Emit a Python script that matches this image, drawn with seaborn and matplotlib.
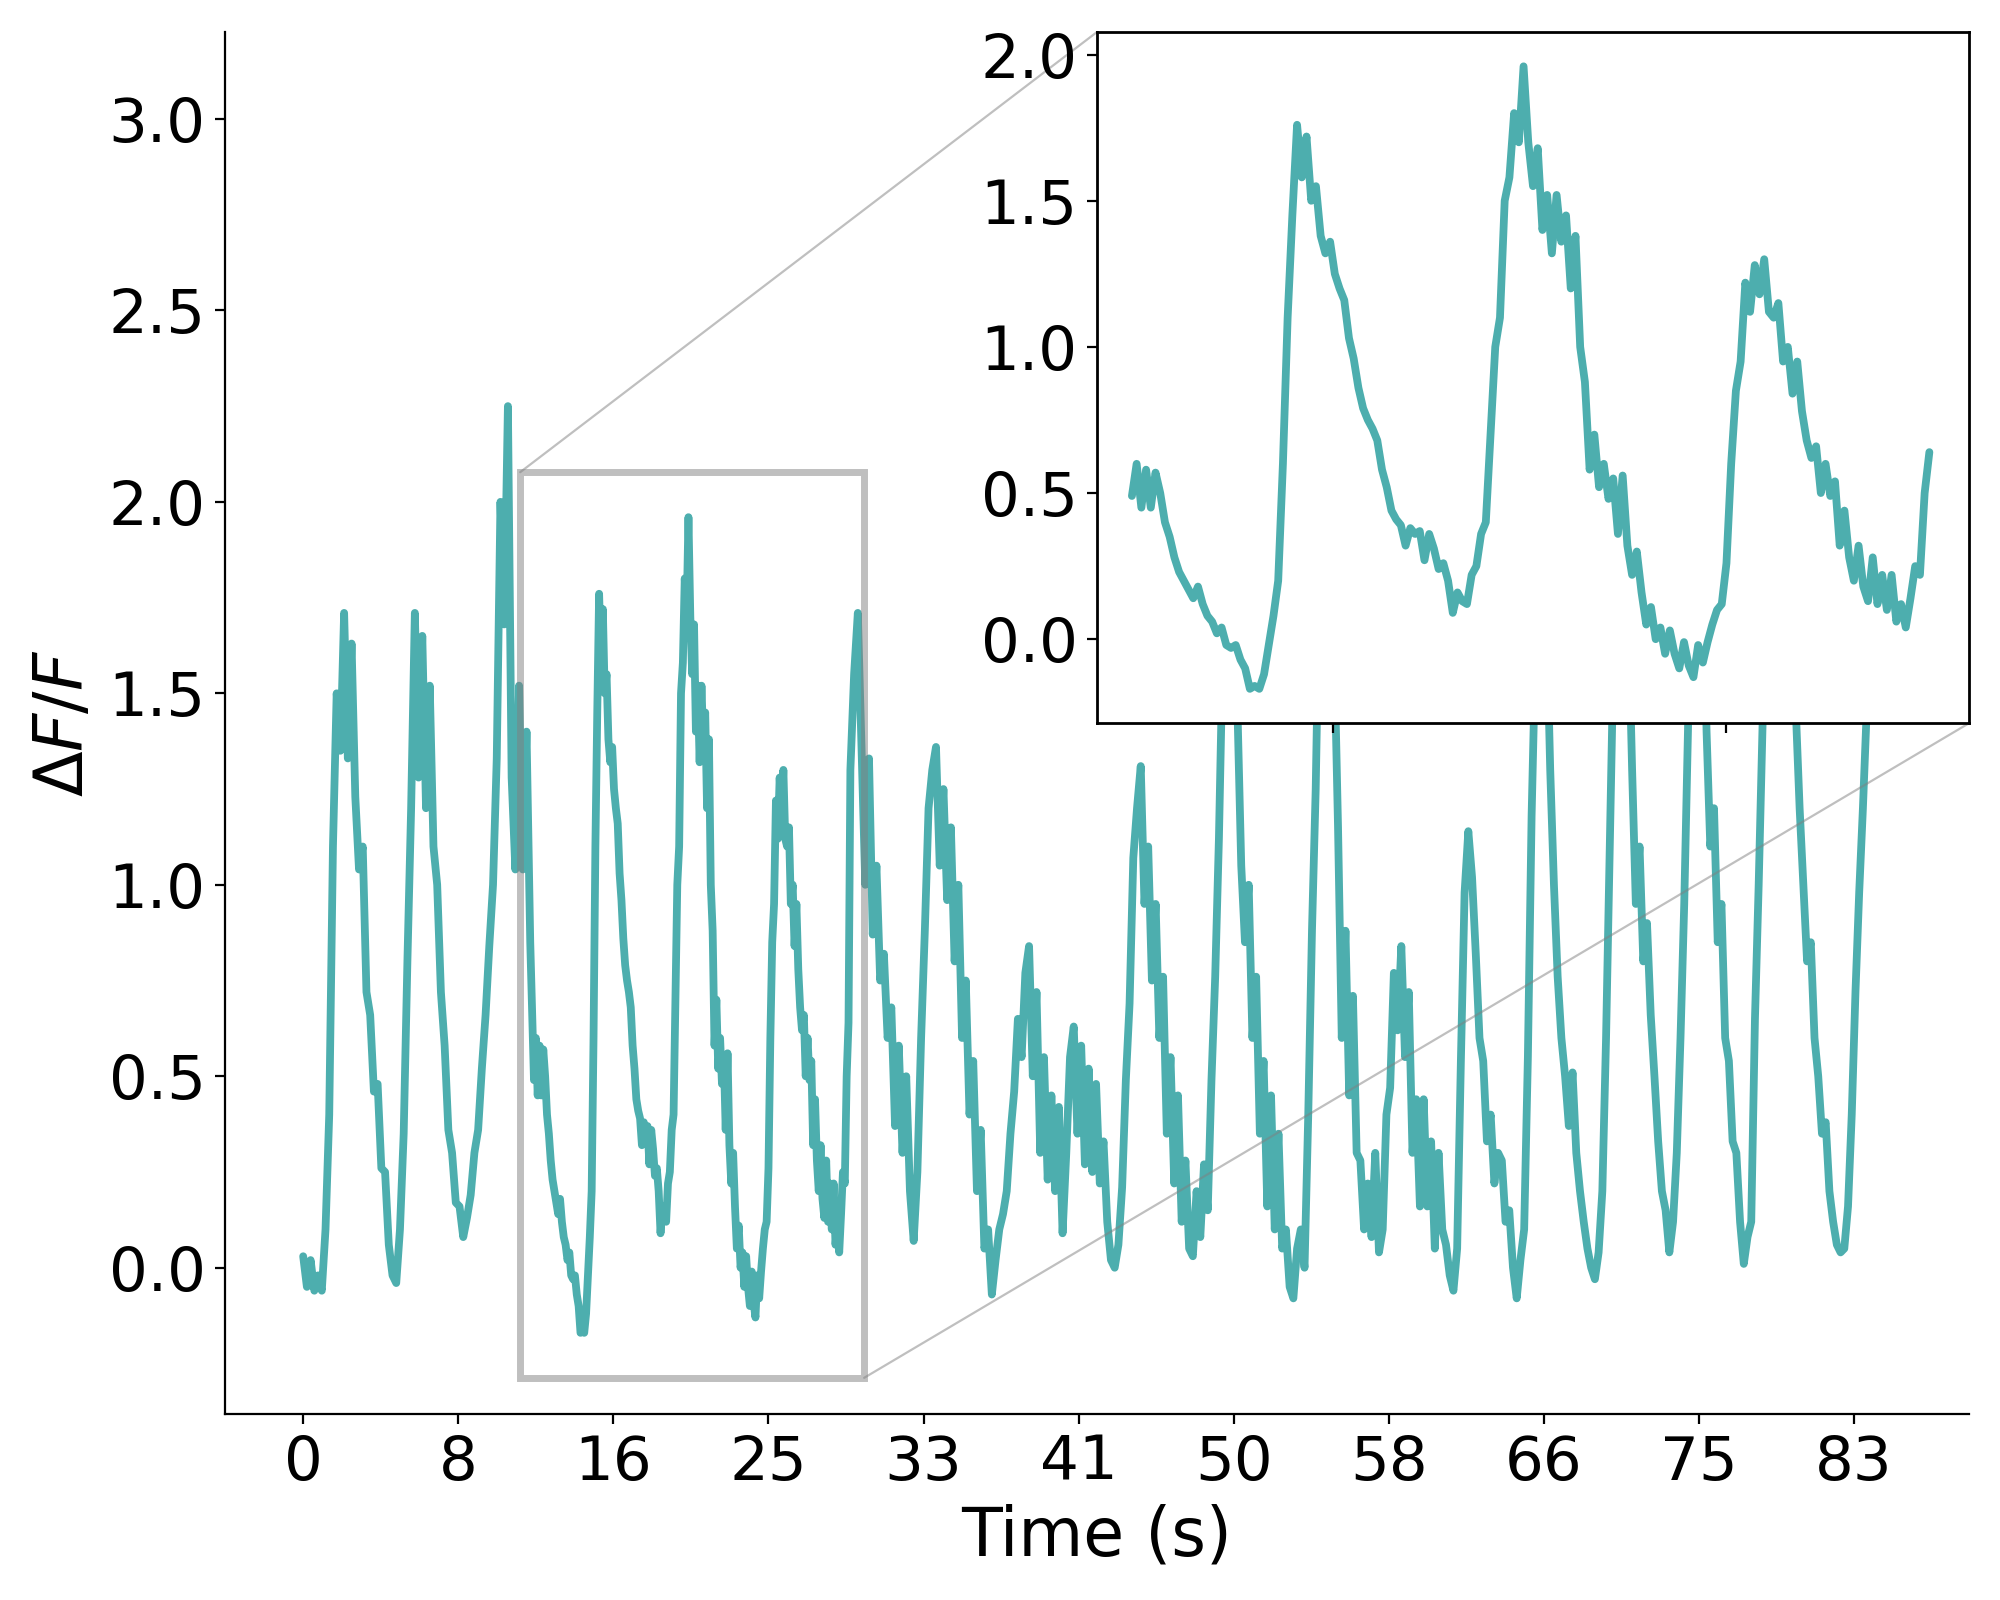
import numpy as np
import pandas as pd
import matplotlib
matplotlib.use("Agg")
import matplotlib.pyplot as plt
import seaborn as sns

trace_color = "#4daeae"

# dF/F trace, every 0.2 s (0.1 s inside the zoomed window)
dff_start = [  # 0.0 - 12.2 s
    0.03, -0.05, 0.02, -0.06, -0.02, -0.06, 0.10, 0.40, 1.10, 1.50,
    1.35, 1.71, 1.33, 1.63, 1.23, 1.04, 1.10, 0.72, 0.66, 0.46,
    0.48, 0.26, 0.25, 0.06, -0.02, -0.04, 0.10, 0.35, 0.80, 1.20,
    1.71, 1.28, 1.65, 1.20, 1.52, 1.10, 1.00, 0.72, 0.58, 0.36,
    0.30, 0.17, 0.16, 0.08, 0.13, 0.19, 0.30, 0.36, 0.52, 0.66,
    0.84, 1.00, 1.33, 2.00, 1.68, 2.25, 1.28, 1.04, 1.52, 1.04,
    1.40, 0.85,
]
dff_zoom = [  # 12.4 - 29.3 s
    0.49, 0.60, 0.45, 0.58, 0.45, 0.57, 0.50, 0.40, 0.35, 0.28,
    0.23, 0.20, 0.17, 0.14, 0.18, 0.12, 0.08, 0.06, 0.02, 0.04,
    -0.02, -0.03, -0.02, -0.07, -0.10, -0.17, -0.16, -0.17, -0.12, -0.02,
    0.08, 0.20, 0.60, 1.10, 1.45, 1.76, 1.58, 1.72, 1.50, 1.55,
    1.38, 1.32, 1.36, 1.25, 1.20, 1.16, 1.03, 0.96, 0.86, 0.79,
    0.75, 0.72, 0.68, 0.58, 0.52, 0.44, 0.41, 0.39, 0.32, 0.38,
    0.36, 0.37, 0.27, 0.36, 0.31, 0.24, 0.26, 0.20, 0.09, 0.16,
    0.13, 0.12, 0.22, 0.25, 0.36, 0.40, 0.70, 1.00, 1.10, 1.50,
    1.58, 1.80, 1.70, 1.96, 1.70, 1.55, 1.68, 1.40, 1.52, 1.32,
    1.52, 1.36, 1.45, 1.20, 1.38, 1.00, 0.88, 0.58, 0.70, 0.52,
    0.60, 0.48, 0.55, 0.36, 0.56, 0.32, 0.22, 0.30, 0.16, 0.05,
    0.11, 0.00, 0.04, -0.05, 0.03, -0.05, -0.10, -0.01, -0.09, -0.13,
    -0.02, -0.08, -0.01, 0.05, 0.10, 0.12, 0.26, 0.60, 0.85, 0.95,
    1.22, 1.12, 1.28, 1.18, 1.30, 1.12, 1.10, 1.15, 0.95, 1.00,
    0.84, 0.95, 0.78, 0.68, 0.62, 0.66, 0.50, 0.60, 0.49, 0.54,
    0.32, 0.44, 0.28, 0.20, 0.32, 0.18, 0.13, 0.28, 0.12, 0.22,
    0.10, 0.22, 0.06, 0.12, 0.04, 0.14, 0.25, 0.22, 0.50, 0.64,
]
dff_end = [  # 29.4 - 85.0 s
    1.30, 1.55, 1.71, 1.35, 1.00, 1.33, 0.87, 1.05, 0.75, 0.82,
    0.60, 0.68, 0.37, 0.58, 0.30, 0.50, 0.20, 0.07, 0.25, 0.60,
    0.88, 1.20, 1.30, 1.36, 1.05, 1.25, 0.96, 1.15, 0.80, 1.00,
    0.60, 0.75, 0.40, 0.54, 0.20, 0.36, 0.05, 0.10, -0.07, 0.02,
    0.10, 0.14, 0.20, 0.35, 0.46, 0.65, 0.55, 0.77, 0.84, 0.50,
    0.72, 0.30, 0.55, 0.23, 0.45, 0.20, 0.42, 0.09, 0.30, 0.55,
    0.63, 0.35, 0.58, 0.27, 0.52, 0.25, 0.48, 0.22, 0.33, 0.12,
    0.02, 0.00, 0.06, 0.21, 0.49, 0.69, 1.07, 1.20, 1.31, 0.95,
    1.10, 0.75, 0.95, 0.60, 0.76, 0.35, 0.55, 0.22, 0.45, 0.12,
    0.28, 0.05, 0.03, 0.20, 0.08, 0.27, 0.15, 0.49, 0.76, 1.12,
    1.60, 2.00, 2.30, 1.90, 1.45, 1.05, 0.85, 1.00, 0.60, 0.76,
    0.35, 0.54, 0.16, 0.45, 0.10, 0.35, 0.05, 0.10, -0.05, -0.08,
    0.05, 0.10, 0.00, 0.40, 0.88, 1.25, 1.80, 2.40, 2.60, 2.10,
    1.60, 1.15, 0.60, 0.88, 0.45, 0.71, 0.30, 0.28, 0.10, 0.22,
    0.08, 0.30, 0.04, 0.10, 0.40, 0.47, 0.77, 0.62, 0.84, 0.55,
    0.72, 0.30, 0.44, 0.16, 0.44, 0.16, 0.33, 0.05, 0.30, 0.10,
    0.06, -0.02, -0.06, 0.05, 0.54, 0.98, 1.14, 1.02, 0.82, 0.60,
    0.54, 0.33, 0.40, 0.22, 0.30, 0.28, 0.12, 0.15, 0.00, -0.08,
    0.02, 0.10, 0.55, 1.18, 1.60, 2.00, 2.10, 1.70, 1.30, 1.00,
    0.76, 0.60, 0.50, 0.37, 0.51, 0.30, 0.20, 0.12, 0.05, 0.00,
    -0.03, 0.04, 0.20, 0.60, 1.10, 1.60, 2.40, 3.06, 2.50, 1.70,
    1.30, 0.95, 1.10, 0.80, 0.90, 0.66, 0.50, 0.33, 0.20, 0.15,
    0.04, 0.12, 0.30, 0.60, 0.95, 1.40, 1.90, 2.40, 2.20, 1.80,
    1.40, 1.10, 1.20, 0.85, 0.95, 0.60, 0.54, 0.33, 0.30, 0.12,
    0.01, 0.08, 0.12, 0.65, 1.00, 1.40, 1.80, 2.20, 2.30, 2.10,
    2.00, 1.80, 1.70, 1.55, 1.45, 1.20, 1.00, 0.80, 0.85, 0.60,
    0.50, 0.35, 0.38, 0.20, 0.12, 0.06, 0.04, 0.05, 0.16, 0.40,
    0.72, 0.98, 1.20, 1.45, 1.70, 1.90, 2.00, 2.10, 2.05,
]

# ticks every 250 frames at 30 Hz, labelled in whole seconds
tick_seconds = [0, 8.33, 16.67, 25, 33.33, 41.67, 50, 58.33, 66.67, 75, 83.33]
tick_labels = ["0", "8", "16", "25", "33", "41", "50", "58", "66", "75", "83"]

t_start = 0.2 * np.arange(len(dff_start))
t_zoom = 12.4 + 0.1 * np.arange(len(dff_zoom))
t_end = 29.4 + 0.2 * np.arange(len(dff_end))

df = pd.DataFrame({"time": np.concatenate([t_start, t_zoom, t_end]),
                   "dff": dff_start + dff_zoom + dff_end})
zoom_df = pd.DataFrame({"time": t_zoom, "dff": dff_zoom})

sns.set_style("ticks", {"axes.edgecolor": "black", "xtick.color": "black",
                        "ytick.color": "black", "text.color": "black",
                        "axes.labelcolor": "black"})
plt.rcParams["font.family"] = ["DejaVu Sans"]

fig = plt.figure(figsize=(10, 8), dpi=200)
ax = fig.add_axes([0.1125, 0.116, 0.872, 0.864])
sns.lineplot(data=df, x="time", y="dff", ax=ax, color=trace_color, linewidth=2.8)
ax.set_xticks(tick_seconds)
ax.set_xticklabels(tick_labels)
ax.set_yticks([0, 0.5, 1.0, 1.5, 2.0, 2.5, 3.0])
ax.set_xlim(-4.2, 89.5)
ax.set_ylim(-0.383, 3.227)
ax.tick_params(labelsize=22)
ax.set_xlabel("Time (s)", fontsize=24)
ax.set_ylabel(r"$\Delta F/F$", fontsize=24)
sns.despine(ax=ax)

# zoomed inset
axins = ax.inset_axes([0.5, 0.5, 0.5, 0.5])
sns.lineplot(data=zoom_df, x="time", y="dff", ax=axins, color=trace_color, linewidth=2.8)
axins.set_xticks(tick_seconds)
axins.set_xticklabels([])
axins.set_yticks([0, 0.5, 1.0, 1.5, 2.0])
axins.set_xlim(11.66, 30.14)
axins.set_ylim(-0.2875, 2.0775)
axins.tick_params(labelsize=22)
axins.set_xlabel("")
axins.set_ylabel("")
for spine in axins.spines.values():
    spine.set_linewidth(1.0)

ind = ax.indicate_inset_zoom(axins, edgecolor="0.5", linewidth=2.5)
# connectors: lower-left, upper-left, lower-right, upper-right
for c, show in zip(ind.connectors, [False, True, True, False]):
    c.set_linewidth(0.8)
    c.set_visible(show)

fig.savefig("out.png", dpi=200)
plt.close()
